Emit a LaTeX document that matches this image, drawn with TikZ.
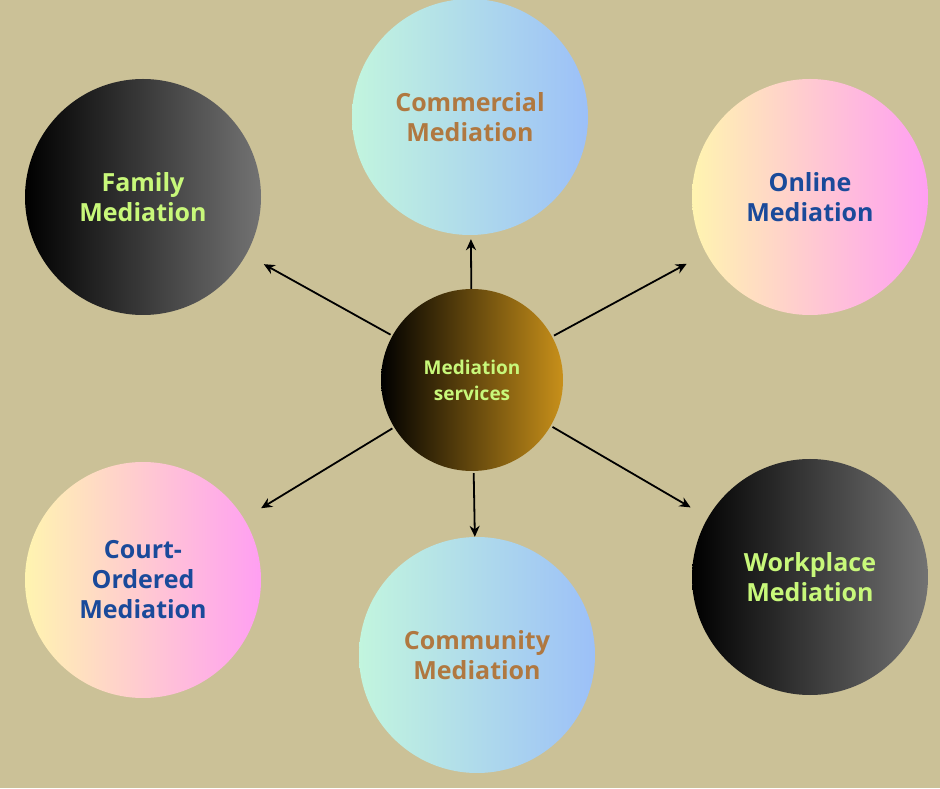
\documentclass[tikz,border=0pt]{standalone}
\usepackage{fontspec}
\setmainfont{Open Sans}
\usetikzlibrary{arrows.meta}
\definecolor{bg}{HTML}{CBC197}
\definecolor{tgreen}{HTML}{C8F87A}
\definecolor{tbrown}{HTML}{B07840}
\definecolor{tblue}{HTML}{1A4A9A}
\definecolor{aquaL}{HTML}{C2F5DE}
\definecolor{aquaR}{HTML}{9CC0F8}
\definecolor{pastL}{HTML}{FFF4B0}
\definecolor{pastR}{HTML}{FF9FF2}
\definecolor{goldR}{HTML}{C8901A}
\tikzset{
 bub/.style={circle,minimum size=236pt,inner sep=0pt,align=center,font=\bfseries\fontsize{25}{30}\selectfont},
 dark/.style={bub,left color=black,right color=black!55!white,text=tgreen},
 aqua/.style={bub,left color=aquaL,right color=aquaR,text=tbrown},
 pastel/.style={bub,left color=pastL,right color=pastR,text=tblue},
 arr/.style={-{Stealth[length=11pt,width=10pt]},line width=1.8pt,black}
}
\begin{document}
\begin{tikzpicture}[x=1pt,y=1pt]
\fill[bg] (0,0) rectangle (940,788);
\useasboundingbox (0,0) rectangle (940,788);
\node[bub,minimum size=182pt,left color=black,right color=goldR,text=tgreen,font=\bfseries\fontsize{19}{26}\selectfont] (c) at (472,408) {Mediation\\services};
\node[dark] (fam) at (143,591) {Family\\Mediation};
\node[aqua] (com) at (470,671) {Commercial\\Mediation};
\node[pastel] (onl) at (810,591) {Online\\Mediation};
\node[pastel] (crt) at (143,208) {Court-\\Ordered\\Mediation};
\node[aqua] (cmy) at (477,133) {Community\\Mediation};
\node[dark] (wrk) at (810,211) {Workplace\\Mediation};
\draw[arr,shorten <=2pt,shorten >=20pt] (c) -- (fam);
\draw[arr,shorten <=0pt,shorten >=4pt] (c) -- (com);
\draw[arr,shorten <=2pt,shorten >=22pt] (c) -- (onl);
\draw[arr,shorten <=2pt,shorten >=20pt] (c) -- (crt);
\draw[arr,shorten <=2pt,shorten >=0pt] (c) -- (cmy);
\draw[arr,shorten <=2pt,shorten >=20pt] (c) -- (wrk);
\end{tikzpicture}
\end{document}
